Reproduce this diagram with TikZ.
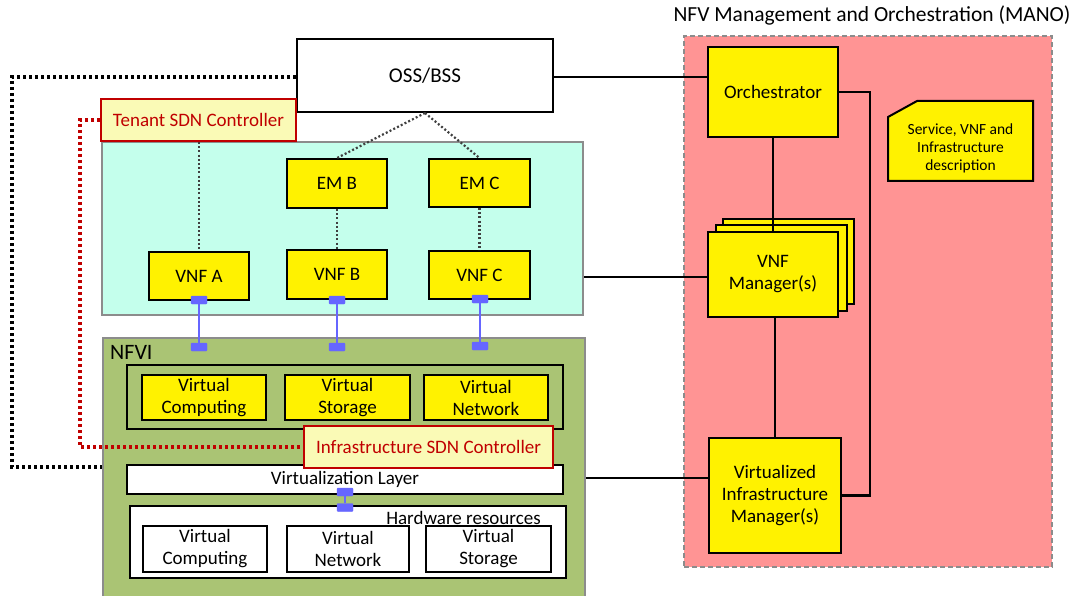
\documentclass[tikz,border=0pt]{standalone}
\usepackage{fontspec}
\setmainfont{Carlito}
\definecolor{cyanfill}{RGB}{196,255,236}
\definecolor{nfvigreen}{RGB}{170,196,116}
\definecolor{manopink}{RGB}{255,148,148}
\definecolor{ctrlfill}{RGB}{250,250,182}
\definecolor{ctrlred}{RGB}{192,0,0}
\definecolor{portblue}{RGB}{102,102,255}
\definecolor{bordergray}{RGB}{140,140,140}
\definecolor{dotgray}{RGB}{64,64,64}
\newcommand\mainf{\fontsize{19}{22}\selectfont}
\tikzset{
  base/.style={draw, line width=2pt, inner sep=0pt, align=center, font=\mainf},
  ybox/.style={base, fill=yellow},
  wbox/.style={base, fill=white},
  ctrlbox/.style={base, draw=ctrlred, fill=ctrlfill, text=ctrlred},
  zone/.style={draw=bordergray, line width=2.2pt, inner sep=0pt},
  port/.style={fill=portblue, draw=portblue, minimum width=16pt, minimum height=8pt, inner sep=0pt, rounded corners=1pt},
  portline/.style={draw=portblue, line width=2pt},
  link/.style={line width=2.8pt},
  bigdot/.style={line width=3.2pt, dash pattern=on 3pt off 3pt},
  smalldot/.style={draw=dotgray, line width=2.2pt, dash pattern=on 2pt off 2.2pt},
}
\begin{document}
\begin{tikzpicture}[x=1pt,y=-1pt]
\useasboundingbox (0,0) rectangle (1076,596);

% MANO
\node[draw=bordergray, fill=manopink, line width=2pt, dash pattern=on 5pt off 3pt, minimum width=368pt, minimum height=531pt, inner sep=0pt] (mano) at (868,301.5) {};
\node[font=\fontsize{21.5}{24}\selectfont] (manotitle) at (872,15) {NFV Management and Orchestration (MANO)};

% VNF zone
\node[zone, fill=cyanfill, minimum width=481pt, minimum height=173pt] (vnfzone) at (342.5,228.5) {};
% NFVI
\node[zone, fill=nfvigreen, minimum width=482pt, minimum height=270pt] (nfvi) at (344,473) {};
\node[anchor=west, font=\fontsize{22}{24}\selectfont, inner sep=0pt] (nfvilabel) at (110,352) {NFVI};

% OSS/BSS
\node[wbox, minimum width=256pt, minimum height=73pt, font=\fontsize{21}{24}\selectfont] (oss) at (425,75.5) {OSS/BSS};
\node[ctrlbox, minimum width=195pt, minimum height=42pt] (tenant) at (198.5,120) {Tenant SDN Controller};

% EMs and VNFs
\node[ybox, minimum width=100pt, minimum height=49pt] (emb) at (337,183.5) {EM B};
\node[ybox, minimum width=101pt, minimum height=48pt] (emc) at (479.5,183) {EM C};
\node[ybox, minimum width=100pt, minimum height=48pt] (vnfa) at (199,276) {VNF A};
\node[ybox, minimum width=100pt, minimum height=49pt] (vnfb) at (337,274.5) {VNF B};
\node[ybox, minimum width=101pt, minimum height=48pt] (vnfc) at (479.5,275) {VNF C};

% NFVI content
\node[draw, line width=2pt, minimum width=436pt, minimum height=64pt, inner sep=0pt] (virt) at (345,397) {};
\node[ybox, minimum width=124pt, minimum height=45pt] (vc1) at (204,397.5) {Virtual\\Computing};
\node[ybox, minimum width=125pt, minimum height=45pt] (vs1) at (347.5,397.5) {Virtual\\Storage};
\node[ybox, minimum width=124pt, minimum height=45pt] (vn1) at (486,397.5) {Virtual\\Network};
\node[wbox, minimum width=436pt, minimum height=29pt] (vlayer) at (345,479.5) {Virtualization Layer};
\node[ctrlbox, minimum width=249pt, minimum height=42pt] (isdn) at (428.5,447) {Infrastructure SDN Controller};
\node[wbox, minimum width=436pt, minimum height=72pt] (hw) at (348,542) {};
\node[font=\mainf, inner sep=0pt] (hwlabel) at (463.5,518) {Hardware resources};
\node[wbox, minimum width=124pt, minimum height=46pt] (vc2) at (205,549) {Virtual\\Computing};
\node[wbox, minimum width=122pt, minimum height=46pt] (vn2) at (348,549) {Virtual\\Network};
\node[wbox, minimum width=125pt, minimum height=46pt] (vs2) at (488.5,549) {Virtual\\Storage};

% ports
\node[port] (pa1) at (199,300) {};
\node[port] (pb1) at (337,300) {};
\node[port] (pc1) at (480,299) {};
\node[port] (pa2) at (199,347) {};
\node[port] (pb2) at (337,347) {};
\node[port] (pc2) at (480,346) {};
\node[port] (pv1) at (345,492) {};
\node[port] (pv2) at (345,507.5) {};
\draw[portline] (pa1) -- (pa2);
\draw[portline] (pb1) -- (pb2);
\draw[portline] (pc1) -- (pc2);
\draw[portline] (pv1) -- (pv2);

% MANO content
\node[ybox, minimum width=130pt, minimum height=90pt] (orch) at (773,92) {Orchestrator};
\draw[line width=2pt, fill=yellow] (723,219) rectangle (854,304);
\draw[line width=2pt, fill=yellow] (716,225) rectangle (847,311);
\node[ybox, minimum width=130pt, minimum height=85pt] (vnfm) at (773,274.5) {VNF\\Manager(s)};
\node[ybox, minimum width=132pt, minimum height=115pt] (vim) at (775,495.5) {Virtualized\\Infrastructure\\Manager(s)};
\draw[line width=2pt, fill=yellow] (888,117) -- (917,101) -- (1033,101) -- (1033,181) -- (888,181) -- cycle;
\node[align=center, font=\fontsize{15.5}{18}\selectfont, inner sep=0pt] (desc) at (960.5,148) {Service, VNF and\\Infrastructure\\description};

% coordinates
\coordinate (bl1) at (12,77);
\coordinate (bl2) at (12,467);
\coordinate (rd1) at (80,120);
\coordinate (rd2) at (80,447);
\coordinate (oj) at (870,92);
\coordinate (oj2) at (870,495.5);

% connectors
\draw[bigdot] (oss.west |- bl1) -- (bl1) -- (bl2) -- (nfvi.west |- bl2);
\draw[bigdot, draw=ctrlred] (tenant.west) -- (rd1) -- (rd2) -- (isdn.west);
\draw[smalldot] (vnfa.north |- tenant.south) -- (vnfa.north);
\draw[smalldot] (oss.south) -- (emb.north);
\draw[smalldot] (oss.south) -- (emc.north);
\draw[smalldot] (emb.south) -- (vnfb.north);
\draw[smalldot] (emc.south) -- (vnfc.north);
\draw[link] (oss.east |- bl1) -- (orch.west |- bl1);
\draw[link] (orch.east) -- (oj) -- (oj2) -- (vim.east);
\draw[link] (orch.south) -- (vnfm.north);
\draw[link] (vnfzone.east |- 0,277) -- (vnfm.west |- 0,277);
\draw[link] (vim.north |- vnfm.south) -- (vim.north);
\draw[link] (nfvi.east |- 0,478) -- (vim.west |- 0,478);
\end{tikzpicture}
\end{document}
